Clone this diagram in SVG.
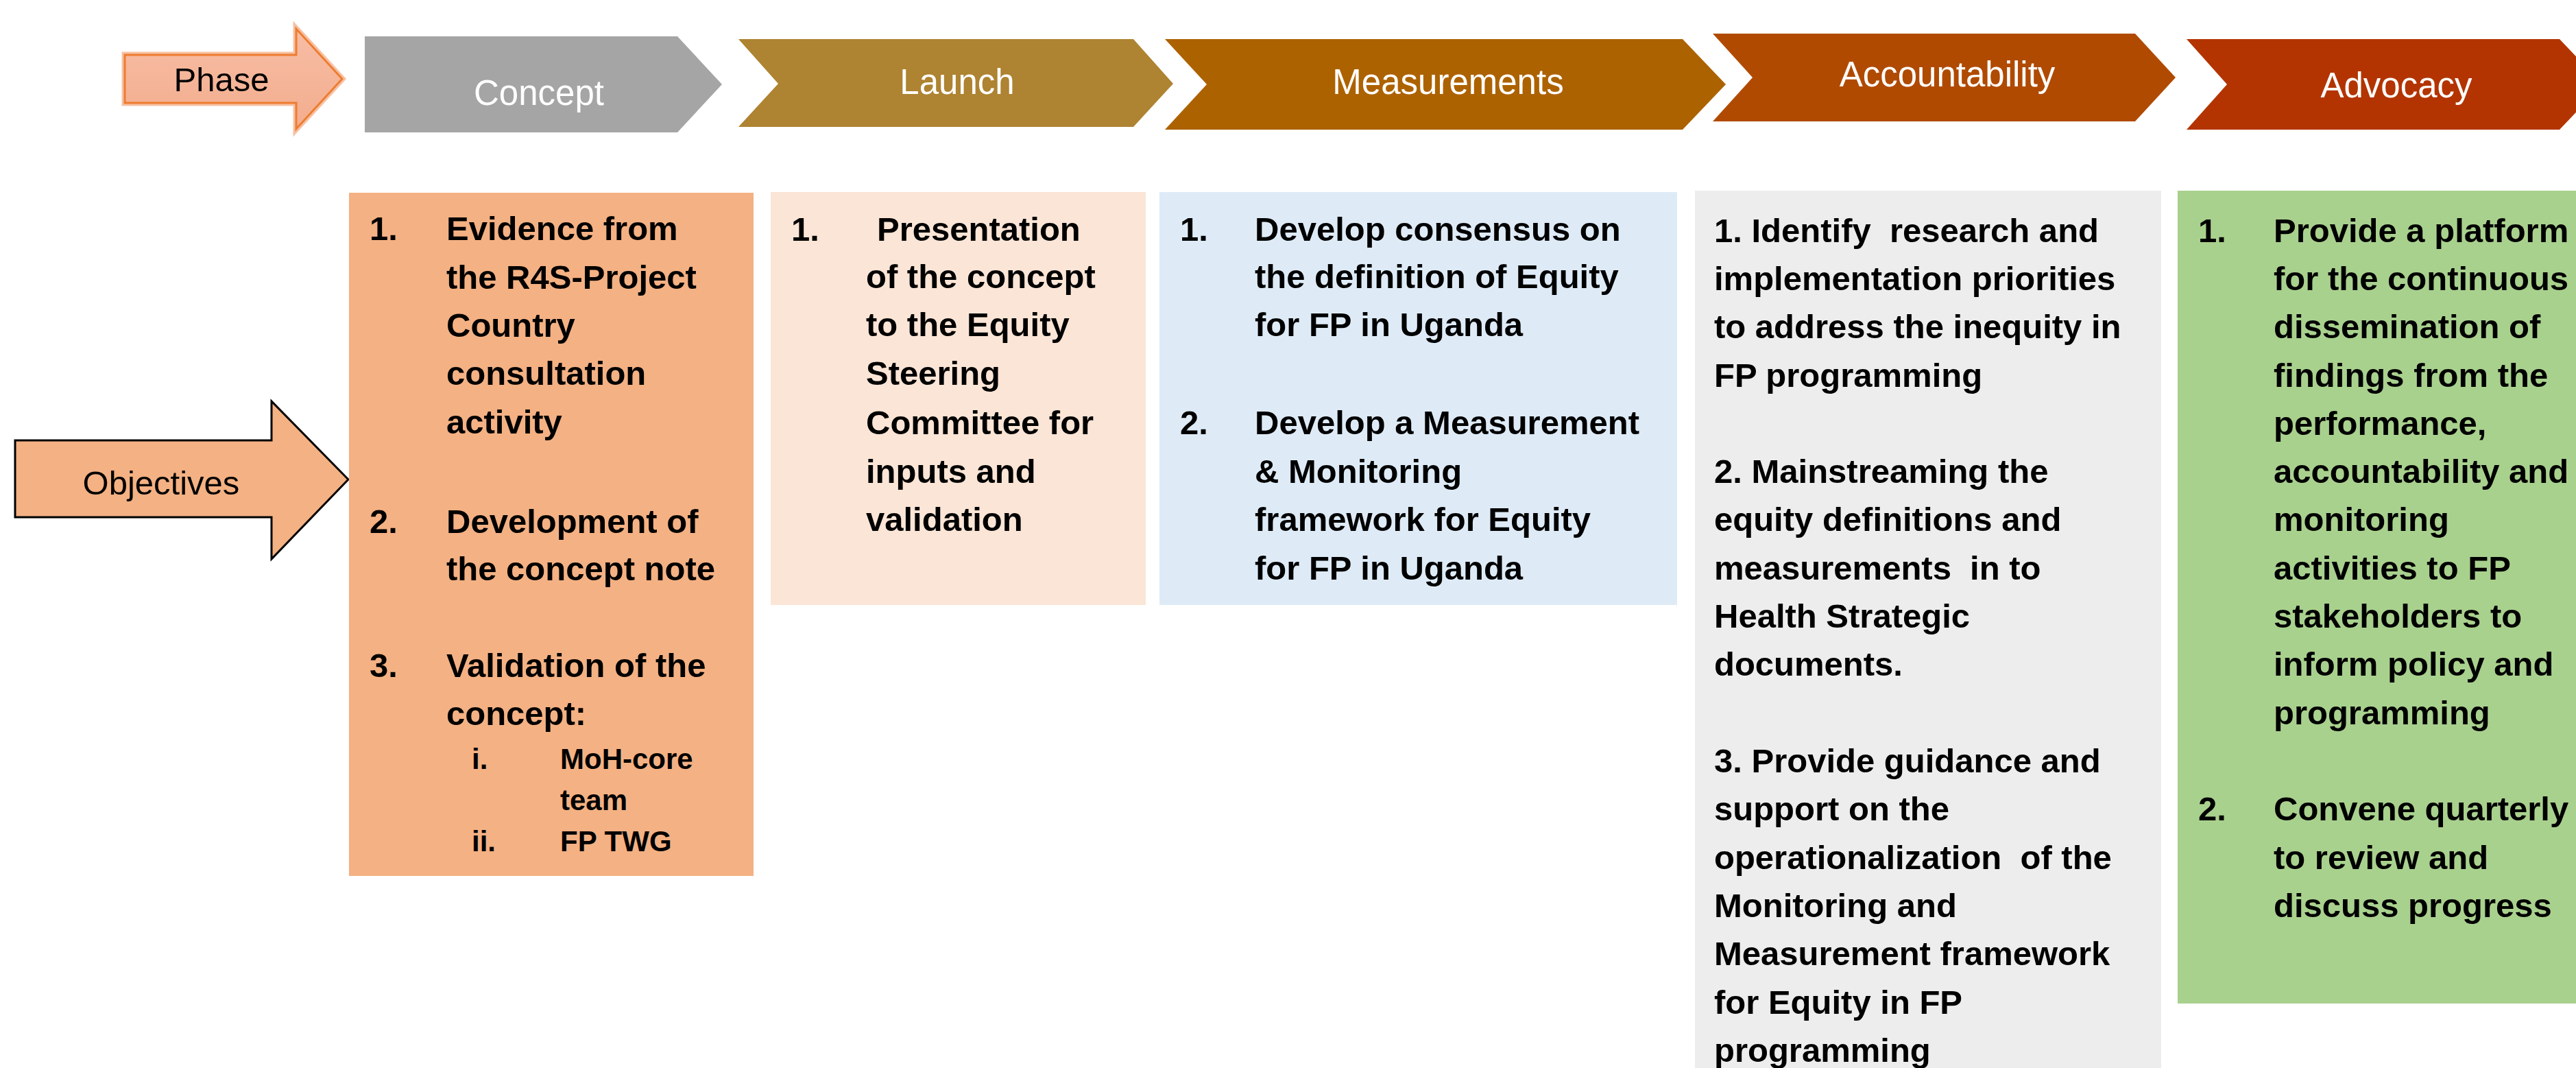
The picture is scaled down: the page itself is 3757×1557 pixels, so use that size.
<svg xmlns="http://www.w3.org/2000/svg" width="3757" height="1557" viewBox="0 0 3757 1557">
<style>
.ph{font-family:"Liberation Sans",Arial,sans-serif;font-size:51px;fill:#ffffff;text-anchor:middle}
.bt{font-family:"Liberation Sans",Arial,sans-serif;font-size:49px;font-weight:bold;fill:#000000;white-space:pre}
.sb{font-family:"Liberation Sans",Arial,sans-serif;font-size:42px;font-weight:bold;fill:#000000}
.lbl{font-family:"Liberation Sans",Arial,sans-serif;font-size:49px;fill:#000000;text-anchor:middle}
</style>
<defs>
<linearGradient id="phg" x1="0" y1="0" x2="0" y2="1">
<stop offset="0" stop-color="#F7BDA5"/>
<stop offset="1" stop-color="#F3AD8D"/>
</linearGradient>
</defs>
<rect width="3757" height="1557" fill="#ffffff"/>

<g id="phase-label">
<path d="M182,80 L432,80 L432,42 L499,115 L432,188 L432,150 L182,150 Z" fill="url(#phg)" stroke="#F6C1A3" stroke-width="9"/>
<path d="M182,80 L432,80 L432,42 L499,115 L432,188 L432,150 L182,150 Z" fill="url(#phg)" stroke="#ED7D31" stroke-width="3"/>
<text class="lbl" x="323" y="133" font-size="46">Phase</text>
</g>

<g id="phase-concept">
<path d="M532,53 L988,53 L1053,123 L988,193 L532,193 Z" fill="#A5A5A5"/>
<text class="ph" x="786" y="153">Concept</text>
</g>
<g id="phase-launch">
<path d="M1077,57 L1653,57 L1711,122 L1653,185 L1077,185 L1135,122 Z" fill="#AE8331"/>
<text class="ph" x="1396" y="137">Launch</text>
</g>
<g id="phase-measurements">
<path d="M1699,57 L2454,57 L2517,123 L2454,189 L1699,189 L1760,123 Z" fill="#AD6200"/>
<text class="ph" x="2112" y="137">Measurements</text>
</g>
<g id="phase-accountability">
<path d="M2498,49 L3114,49 L3173,113 L3114,177 L2498,177 L2556,113 Z" fill="#B04A00"/>
<text class="ph" x="2840" y="126">Accountability</text>
</g>
<g id="phase-advocacy">
<path d="M3189,57 L3733,57 L3796,123 L3733,189 L3189,189 L3248,123 Z" fill="#B33400"/>
<text class="ph" x="3495" y="142">Advocacy</text>
</g>

<g id="objectives-label">
<path d="M22,642 L396,642 L396,585 L508,699 L396,815 L396,754 L22,754 Z" fill="#F4B183" stroke="#000000" stroke-width="3"/>
<text class="lbl" x="235" y="721">Objectives</text>
</g>

<g id="box-concept">
<rect x="509" y="281" width="590" height="996" fill="#F4B183"/>
<text class="bt">
<tspan x="539" y="350">1.</tspan><tspan x="651" y="350">Evidence from</tspan>
<tspan x="651" y="421">the R4S-Project</tspan>
<tspan x="651" y="491">Country</tspan>
<tspan x="651" y="561">consultation</tspan>
<tspan x="651" y="632">activity</tspan>
<tspan x="539" y="777">2.</tspan><tspan x="651" y="777">Development of</tspan>
<tspan x="651" y="846">the concept note</tspan>
<tspan x="539" y="987">3.</tspan><tspan x="651" y="987">Validation of the</tspan>
<tspan x="651" y="1057">concept:</tspan>
</text>
<text class="sb">
<tspan x="688" y="1121">i.</tspan><tspan x="817" y="1121">MoH-core</tspan>
<tspan x="817" y="1181">team</tspan>
<tspan x="688" y="1241">ii.</tspan><tspan x="817" y="1241">FP TWG</tspan>
</text>
</g>

<g id="box-launch">
<rect x="1124" y="280" width="547" height="602" fill="#FBE5D6"/>
<text class="bt">
<tspan x="1154" y="351">1.</tspan><tspan x="1279" y="351">Presentation</tspan>
<tspan x="1263" y="420">of the concept</tspan>
<tspan x="1263" y="490">to the Equity</tspan>
<tspan x="1263" y="561">Steering</tspan>
<tspan x="1263" y="633">Committee for</tspan>
<tspan x="1263" y="704">inputs and</tspan>
<tspan x="1263" y="774">validation</tspan>
</text>
</g>

<g id="box-measurements">
<rect x="1691" y="280" width="755" height="602" fill="#DEEBF7"/>
<text class="bt">
<tspan x="1721" y="351">1.</tspan><tspan x="1830" y="351">Develop consensus on</tspan>
<tspan x="1830" y="420">the definition of Equity</tspan>
<tspan x="1830" y="490">for FP in Uganda</tspan>
<tspan x="1721" y="633">2.</tspan><tspan x="1830" y="633">Develop a Measurement</tspan>
<tspan x="1830" y="704">&amp; Monitoring</tspan>
<tspan x="1830" y="774">framework for Equity</tspan>
<tspan x="1830" y="845">for FP in Uganda</tspan>
</text>
</g>

<g id="box-accountability">
<rect x="2472" y="278" width="680" height="1290" fill="#EDEDED"/>
<text class="bt" xml:space="preserve"><tspan x="2500" y="353">1. Identify  research and</tspan><tspan x="2500" y="423">implementation priorities</tspan><tspan x="2500" y="493">to address the inequity in</tspan><tspan x="2500" y="564">FP programming</tspan><tspan x="2500" y="704">2. Mainstreaming the</tspan><tspan x="2500" y="774">equity definitions and</tspan><tspan x="2500" y="845">measurements  in to</tspan><tspan x="2500" y="915">Health Strategic</tspan><tspan x="2500" y="985">documents.</tspan><tspan x="2500" y="1126">3. Provide guidance and</tspan><tspan x="2500" y="1196">support on the</tspan><tspan x="2500" y="1267">operationalization  of the</tspan><tspan x="2500" y="1337">Monitoring and</tspan><tspan x="2500" y="1407">Measurement framework</tspan><tspan x="2500" y="1478">for Equity in FP</tspan><tspan x="2500" y="1548">programming</tspan></text>
</g>

<g id="box-advocacy">
<rect x="3176" y="278" width="600" height="1185" fill="#A9D18E"/>
<text class="bt">
<tspan x="3206" y="353">1.</tspan><tspan x="3316" y="353">Provide a platform</tspan>
<tspan x="3316" y="423">for the continuous</tspan>
<tspan x="3316" y="493">dissemination of</tspan>
<tspan x="3316" y="564">findings from the</tspan>
<tspan x="3316" y="634">performance,</tspan>
<tspan x="3316" y="704">accountability and</tspan>
<tspan x="3316" y="774">monitoring</tspan>
<tspan x="3316" y="845">activities to FP</tspan>
<tspan x="3316" y="915">stakeholders to</tspan>
<tspan x="3316" y="985">inform policy and</tspan>
<tspan x="3316" y="1056">programming</tspan>
<tspan x="3206" y="1196">2.</tspan><tspan x="3316" y="1196">Convene quarterly</tspan>
<tspan x="3316" y="1267">to review and</tspan>
<tspan x="3316" y="1337">discuss progress</tspan>
</text>
</g>

<g id="connectors"></g>
</svg>
